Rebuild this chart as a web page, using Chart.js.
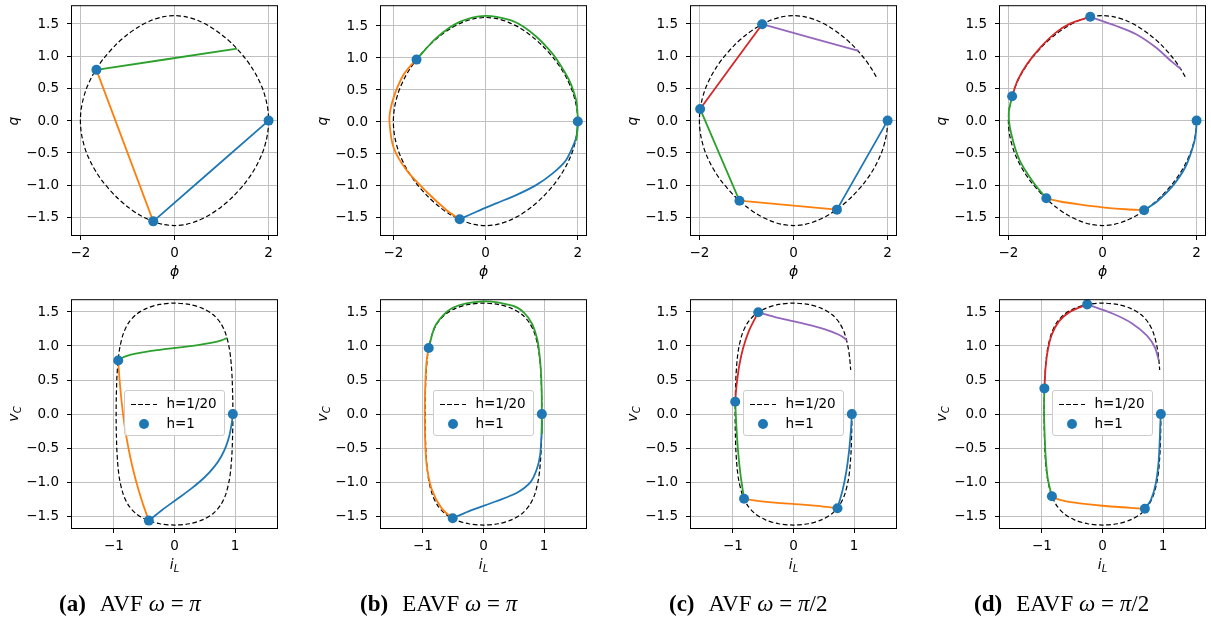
<!DOCTYPE html>
<html>
<head>
<meta charset="utf-8">
<script src="https://cdn.jsdelivr.net/npm/chart.js@4.4.1/dist/chart.umd.min.js"></script>
<style>
  body { margin: 0; width: 1211px; height: 628px; background: #fff; position: relative; overflow: hidden; font-family: "DejaVu Sans", sans-serif; }
  .lab { position: absolute; font-size: 14px; font-style: italic; white-space: nowrap; color: #000; line-height: 1; }
  .lab .sub { font-size: 10px; position: relative; top: 3px; }
  .tick { position: absolute; font-size: 13.5px; line-height: 1; white-space: nowrap; color: #000; }
  .cap { position: absolute; font-family: "Liberation Serif", serif; font-size: 23px; line-height: 23px; white-space: nowrap; color: #000; }
  .cap b { margin-right: 14px; }
  .leg { position: absolute; width: 101px; height: 46px; background: rgba(255,255,255,0.8); border: 1px solid #cccccc; border-radius: 3px; box-sizing: border-box; }
  .leg .dash { position: absolute; left: 6px; width: 27px; height: 1.3px; background: repeating-linear-gradient(90deg, #000 0 4.6px, transparent 4.6px 7.2px); }
  .leg .dot { position: absolute; width: 10px; height: 10px; border-radius: 50%; background: #1f77b4; }
  .leg .txt { position: absolute; left: 42px; font-size: 13.5px; line-height: 1; white-space: nowrap; }
</style>
</head>
<body>
<script>
const C0 = '#1f77b4', C1 = '#ff7f0e', C2 = '#2ca02c', C3 = '#d62728', C4 = '#9467bd';
const SEG_COLORS = [C0, C1, C2, C3, C4];

const TOP_XTICKS = [-2, 0, 2];
const BOT_XTICKS = [-1, 0, 1];
const YTICKS = [-1.5, -1.0, -0.5, 0.0, 0.5, 1.0, 1.5];

// reference orbit h=1/20, full loop (omega = pi)
const refPhiFull = [2, 1.995, 1.98, 1.95, 1.9, 1.85, 1.75, 1.65, 1.5, 1.25, 1, 0.75, 0.5, 0.25, 0, -0.25, -0.5, -0.75, -1, -1.25, -1.5, -1.65, -1.75, -1.85, -1.9, -1.95, -1.98, -1.995, -2, -1.995, -1.98, -1.95, -1.9, -1.85, -1.75, -1.65, -1.5, -1.25, -1, -0.75, -0.5, -0.25, 0, 0.25, 0.5, 0.75, 1, 1.25, 1.5, 1.65, 1.75, 1.85, 1.9, 1.95, 1.98, 1.995, 2];
const refQFull = [0, -0.098, -0.196, -0.307, -0.438, -0.536, -0.69, -0.815, -0.969, -1.174, -1.335, -1.461, -1.552, -1.609, -1.628, -1.609, -1.552, -1.461, -1.335, -1.174, -0.969, -0.815, -0.69, -0.536, -0.438, -0.307, -0.196, -0.098, 0, 0.098, 0.196, 0.307, 0.438, 0.536, 0.69, 0.815, 0.969, 1.174, 1.335, 1.461, 1.552, 1.609, 1.628, 1.609, 1.552, 1.461, 1.335, 1.174, 0.969, 0.815, 0.69, 0.536, 0.438, 0.307, 0.196, 0.098, 0];
const refILFull = [0.964, 0.964, 0.963, 0.960, 0.956, 0.952, 0.941, 0.929, 0.905, 0.848, 0.762, 0.635, 0.462, 0.245, 0, -0.245, -0.462, -0.635, -0.762, -0.848, -0.905, -0.929, -0.941, -0.952, -0.956, -0.960, -0.963, -0.964, -0.964, -0.964, -0.963, -0.960, -0.956, -0.952, -0.941, -0.929, -0.905, -0.848, -0.762, -0.635, -0.462, -0.245, 0, 0.245, 0.462, 0.635, 0.762, 0.848, 0.905, 0.929, 0.941, 0.952, 0.956, 0.960, 0.963, 0.964, 0.964];

// reference orbit h=1/20, partial loop (omega = pi/2)
const refPhiPart = [2, 1.995, 1.98, 1.95, 1.9, 1.85, 1.75, 1.65, 1.5, 1.25, 1, 0.75, 0.5, 0.25, 0, -0.25, -0.5, -0.75, -1, -1.25, -1.5, -1.65, -1.75, -1.85, -1.9, -1.95, -1.98, -1.995, -2, -1.995, -1.98, -1.95, -1.9, -1.85, -1.75, -1.65, -1.5, -1.25, -1, -0.75, -0.5, -0.25, 0, 0.25, 0.5, 0.75, 1, 1.25, 1.5, 1.65, 1.75, 1.78];
const refQPart = [0, -0.098, -0.196, -0.307, -0.438, -0.536, -0.69, -0.815, -0.969, -1.174, -1.335, -1.461, -1.552, -1.609, -1.628, -1.609, -1.552, -1.461, -1.335, -1.174, -0.969, -0.815, -0.69, -0.536, -0.438, -0.307, -0.196, -0.098, 0, 0.098, 0.196, 0.307, 0.438, 0.536, 0.69, 0.815, 0.969, 1.174, 1.335, 1.461, 1.552, 1.609, 1.628, 1.609, 1.552, 1.461, 1.335, 1.174, 0.969, 0.815, 0.69, 0.648];
const refILPart = [0.964, 0.964, 0.963, 0.960, 0.956, 0.952, 0.941, 0.929, 0.905, 0.848, 0.762, 0.635, 0.462, 0.245, 0, -0.245, -0.462, -0.635, -0.762, -0.848, -0.905, -0.929, -0.941, -0.952, -0.956, -0.960, -0.963, -0.964, -0.964, -0.964, -0.963, -0.960, -0.956, -0.952, -0.941, -0.929, -0.905, -0.848, -0.762, -0.635, -0.462, -0.245, 0, 0.245, 0.462, 0.635, 0.762, 0.848, 0.905, 0.929, 0.941, 0.945];

// (a) AVF omega = pi
const aDotPhi = [2, -0.452, -1.66];
const aDotQ = [0, -1.563, 0.787];
const aSegPhi = [[2, -0.452], [-0.452, -1.66], [-1.66, 1.33]];
const aSegQ = [[0, -1.563], [-1.563, 0.787], [0.787, 1.116]];
const aDotIL = [0.964, -0.424, -0.930];
const aSegIL = [
  [0.964, 0.954, 0.942, 0.907, 0.852, 0.770, 0.649, 0.485, 0.277, 0.038, -0.204, -0.424],
  [-0.424, -0.518, -0.601, -0.672, -0.733, -0.784, -0.827, -0.861, -0.889, -0.912, -0.930],
  [-0.930, -0.877, -0.786, -0.643, -0.433, -0.164, 0.133, 0.408, 0.624, 0.774, 0.869]
];
const aSegVC = [
  [0, -0.078, -0.156, -0.313, -0.469, -0.625, -0.782, -0.938, -1.094, -1.25, -1.407, -1.563],
  [-1.563, -1.328, -1.093, -0.858, -0.623, -0.388, -0.153, 0.082, 0.317, 0.552, 0.787],
  [0.787, 0.820, 0.853, 0.886, 0.919, 0.952, 0.984, 1.017, 1.050, 1.083, 1.116]
];

// (b) EAVF omega = pi
const bDotPhi = [2, -0.562, -1.498];
const bDotQ = [0, -1.528, 0.969];
const bSegPhi = [
  [2, 1.98, 1.92, 1.745, 1.455, 1.096, 0.664, 0.231, -0.201, -0.562],
  [-0.562, -0.85, -1.28, -1.715, -2.0, -2.085, -2.06, -1.97, -1.79, -1.606, -1.498],
  [-1.498, -1.066, -0.562, 0, 0.519, 0.807, 1.096, 1.347, 1.528, 1.81, 1.96, 1.99, 2.0, 1.99, 1.965]
];
const bSegQ = [
  [0, -0.2, -0.345, -0.604, -0.81, -0.994, -1.15, -1.279, -1.41, -1.528],
  [-1.528, -1.383, -1.098, -0.76, -0.397, 0, 0.2, 0.43, 0.72, 0.891, 0.969],
  [0.969, 1.31, 1.56, 1.654, 1.59, 1.49, 1.33, 1.15, 0.99, 0.65, 0.35, 0.18, 0, -0.15, -0.3]
];
const bDotIL = [0.964, -0.509, -0.905];
const bSegIL = [
  [0.964, 0.963, 0.956, 0.935, 0.88, 0.78, 0.56, 0.21, -0.198, -0.509],
  [-0.509, -0.691, -0.857, -0.937, -0.964, -0.97, -0.968, -0.962, -0.946, -0.923, -0.905],
  [-0.905, -0.788, -0.509, 0, 0.477, 0.668, 0.799, 0.873, 0.91, 0.948, 0.961, 0.963, 0.964, 0.963, 0.962]
];

// (c) AVF omega = pi/2
const cDotPhi = [2, 0.923, -1.149, -1.985, -0.666];
const cDotQ = [0, -1.381, -1.242, 0.181, 1.495];
const cSegPhi = [[2, 0.923], [0.923, -1.149], [-1.149, -1.985], [-1.985, -0.666], [-0.666, 1.383]];
const cSegQ = [[0, -1.381], [-1.381, -1.242], [-1.242, 0.181], [0.181, 1.495], [1.495, 1.082]];
const cDotIL = [0.964, 0.727, -0.817, -0.963, -0.582];
const cSegIL = [
  [0.964, 0.956, 0.945, 0.917, 0.875, 0.814, 0.727],
  [0.727, 0.469, 0.094, -0.310, -0.626, -0.817],
  [-0.817, -0.876, -0.917, -0.944, -0.963],
  [-0.963, -0.952, -0.938, -0.897, -0.832, -0.731, -0.582],
  [-0.582, -0.251, 0.153, 0.510, 0.750, 0.827, 0.882]
];
const cSegVC = [
  [0, -0.138, -0.276, -0.552, -0.829, -1.105, -1.381],
  [-1.381, -1.353, -1.325, -1.298, -1.270, -1.242],
  [-1.242, -0.886, -0.531, -0.175, 0.181],
  [0.181, 0.312, 0.444, 0.707, 0.969, 1.232, 1.495],
  [1.495, 1.412, 1.330, 1.247, 1.165, 1.123, 1.082]
];

// (d) EAVF omega = pi/2
const dDotPhi = [2, 0.884, -1.194, -1.921, -0.261];
const dDotQ = [0, -1.39, -1.205, 0.377, 1.61];
const dSegPhi = [
  [2, 1.99, 1.944, 1.767, 1.484, 1.166, 0.884],
  [0.884, 0.5, 0, -0.5, -0.9, -1.194],
  [-1.194, -1.484, -1.766, -1.942, -1.993, -1.921],
  [-1.921, -1.8, -1.6, -1.3, -1.0, -0.7, -0.261],
  [-0.261, 0.282, 0.706, 1.13, 1.484, 1.662]
];
const dSegQ = [
  [0, -0.15, -0.351, -0.712, -1.02, -1.251, -1.39],
  [-1.39, -1.375, -1.345, -1.3, -1.255, -1.205],
  [-1.205, -0.943, -0.609, -0.197, 0.111, 0.377],
  [0.377, 0.63, 0.88, 1.15, 1.36, 1.5, 1.61],
  [1.61, 1.471, 1.343, 1.137, 0.906, 0.804]
];
const dDotIL = [0.964, 0.70, -0.836, -0.96, -0.253];
const dSegIL = [
  [0.964, 0.955, 0.946, 0.925, 0.88, 0.8, 0.70],
  [0.70, 0.462, 0, -0.462, -0.716, -0.836],
  [-0.836, -0.905, -0.94, -0.96, -0.967, -0.96],
  [-0.96, -0.945, -0.915, -0.845, -0.72, -0.54, -0.253],
  [-0.253, 0.155, 0.483, 0.735, 0.87, 0.925]
];
const dSegVC = [
  [0, -0.15, -0.377, -0.72, -1.02, -1.26, -1.39],
  [-1.39, -1.375, -1.345, -1.3, -1.255, -1.205],
  [-1.205, -0.943, -0.609, -0.197, 0.111, 0.377],
  [0.377, 0.63, 0.88, 1.15, 1.36, 1.5, 1.61],
  [1.61, 1.48, 1.334, 1.15, 0.97, 0.80]
];

const captions = [
  ['(a)', 'AVF', '<i>π</i>'],
  ['(b)', 'EAVF', '<i>π</i>'],
  ['(c)', 'AVF', '<i>π</i>/2'],
  ['(d)', 'EAVF', '<i>π</i>/2']
];

// layout
const FRAME_LEFT = [71, 380, 690, 999];
const FRAME_W = 207;
const ROW_TOP = [5, 299];
const ROW_H = [231, 230];
const PAD_L = 62, PAD_R = 8, PAD_T = 10, PAD_B = 30;
const CAP_LEFT = [59, 360, 669, 974];

const pts = (xs, ys) => xs.map((x, i) => ({ x: x, y: ys[i] }));
const fmt = (v, d) => (v < 0 ? '\u2212' : '') + Math.abs(v).toFixed(d);

const framePlugin = {
  id: 'frame',
  afterDraw(chart) {
    const { ctx, chartArea: a } = chart;
    ctx.save();
    ctx.strokeStyle = '#000';
    ctx.lineWidth = 1;
    ctx.strokeRect(a.left + 0.5, a.top + 0.5, a.right - a.left - 1, a.bottom - a.top - 1);
    ctx.restore();
  }
};

function addText(cls, html, x, y, tx, ty) {
  const d = document.createElement('div');
  d.className = cls;
  d.innerHTML = html;
  d.style.left = x + 'px';
  d.style.top = y + 'px';
  d.style.transform = 'translate(' + tx + ',' + ty + ')';
  document.body.appendChild(d);
  return d;
}

function makePanel(col, row, xr, yr, xticks, segX, segY, dotX, dotY, refX, refY) {
  const left = FRAME_LEFT[col], top = ROW_TOP[row], h = ROW_H[row];
  const W = FRAME_W + PAD_L + PAD_R, H = h + PAD_T + PAD_B;
  const cLeft = left - PAD_L, cTop = top - PAD_T;
  const cv = document.createElement('canvas');
  cv.width = W; cv.height = H;
  cv.style.cssText = 'position:absolute;left:' + cLeft + 'px;top:' + cTop + 'px;width:' + W + 'px;height:' + H + 'px';
  document.body.appendChild(cv);

  const ds = [{
    data: pts(dotX, dotY), showLine: false, pointRadius: 5,
    pointBackgroundColor: C0, pointBorderWidth: 0
  }];
  for (let k = segX.length - 1; k >= 0; k--) {
    ds.push({
      data: pts(segX[k], segY[k]), showLine: true, borderColor: SEG_COLORS[k],
      borderWidth: 1.8, pointRadius: 0, tension: 0.3
    });
  }
  ds.push({
    data: pts(refX, refY), showLine: true, borderColor: '#000', borderWidth: 1.2,
    borderDash: [4.6, 2.6], pointRadius: 0, tension: 0.3
  });

  const grid = { color: '#c0c0c0', lineWidth: 1, tickLength: 4, tickColor: '#000', tickWidth: 1, drawTicks: true };
  const hidden = { color: 'rgba(0,0,0,0)', autoSkip: false, maxRotation: 0 };

  const chart = new Chart(cv, {
    type: 'scatter',
    data: { datasets: ds },
    options: {
      responsive: false,
      animation: false,
      events: [],
      layout: { padding: { top: PAD_T, right: PAD_R, left: 0, bottom: 0 } },
      plugins: { legend: { display: false }, tooltip: { enabled: false } },
      scales: {
        x: {
          type: 'linear', min: xr[0], max: xr[1],
          afterBuildTicks: s => { s.ticks = xticks.map(v => ({ value: v })); },
          afterFit: s => { s.height = PAD_B; },
          grid: grid, border: { display: false }, ticks: hidden
        },
        y: {
          type: 'linear', min: yr[0], max: yr[1],
          afterBuildTicks: s => { s.ticks = YTICKS.map(v => ({ value: v })); },
          afterFit: s => { s.width = PAD_L; },
          grid: grid, border: { display: false }, ticks: hidden
        }
      }
    },
    plugins: [framePlugin]
  });

  // tick labels as page text, placed with the chart's own scales
  const a = chart.chartArea;
  xticks.forEach(v => {
    addText('tick', fmt(v, 0), cLeft + chart.scales.x.getPixelForValue(v), cTop + a.bottom + 17, '-50%', '-50%');
  });
  YTICKS.forEach(v => {
    addText('tick', fmt(v, 1), cLeft + a.left - 12, cTop + chart.scales.y.getPixelForValue(v), '-100%', '-50%');
  });
}

function addLegend(col) {
  const cx = FRAME_LEFT[col] + FRAME_W / 2, cy = ROW_TOP[1] + ROW_H[1] / 2;
  const d = document.createElement('div');
  d.className = 'leg';
  d.style.left = (cx - 51) + 'px';
  d.style.top = (cy - 24) + 'px';
  d.innerHTML =
    '<div class="dash" style="top:12.5px"></div><div class="txt" style="top:6px">h=1/20</div>' +
    '<div class="dot" style="left:14.5px;top:28px"></div><div class="txt" style="top:26px">h=1</div>';
  document.body.appendChild(d);
}

const ROW1_X = [[-2.2, 2.2], [-2.29, 2.2], [-2.2, 2.2], [-2.2, 2.2]];
const ROW1_Y = [[-1.79, 1.79], [-1.79, 1.82], [-1.79, 1.79], [-1.79, 1.79]];
const ROW2_X = [-1.71, 1.71];
const ROW2_Y = [-1.686, 1.686];

makePanel(0, 0, ROW1_X[0], ROW1_Y[0], TOP_XTICKS, aSegPhi, aSegQ, aDotPhi, aDotQ, refPhiFull, refQFull);
makePanel(1, 0, ROW1_X[1], ROW1_Y[1], TOP_XTICKS, bSegPhi, bSegQ, bDotPhi, bDotQ, refPhiFull, refQFull);
makePanel(2, 0, ROW1_X[2], ROW1_Y[2], TOP_XTICKS, cSegPhi, cSegQ, cDotPhi, cDotQ, refPhiPart, refQPart);
makePanel(3, 0, ROW1_X[3], ROW1_Y[3], TOP_XTICKS, dSegPhi, dSegQ, dDotPhi, dDotQ, refPhiPart, refQPart);

makePanel(0, 1, ROW2_X, ROW2_Y, BOT_XTICKS, aSegIL, aSegVC, aDotIL, aDotQ, refILFull, refQFull);
makePanel(1, 1, ROW2_X, ROW2_Y, BOT_XTICKS, bSegIL, bSegQ, bDotIL, bDotQ, refILFull, refQFull);
makePanel(2, 1, ROW2_X, ROW2_Y, BOT_XTICKS, cSegIL, cSegVC, cDotIL, cDotQ, refILPart, refQPart);
makePanel(3, 1, ROW2_X, ROW2_Y, BOT_XTICKS, dSegIL, dSegVC, dDotIL, dDotQ, refILPart, refQPart);

for (let c = 0; c < 4; c++) {
  const mid = FRAME_LEFT[c] + FRAME_W / 2;
  addText('lab', '\u03d5', mid, 271, '-50%', '-50%');
  addText('lab', 'i<span class="sub">L</span>', mid, 564, '-50%', '-50%');
  addText('lab', 'q', FRAME_LEFT[c] - 58, ROW_TOP[0] + ROW_H[0] / 2, '-50%', '-50%').style.transform += ' rotate(-90deg)';
  addText('lab', 'v<span class="sub">C</span>', FRAME_LEFT[c] - 58, ROW_TOP[1] + ROW_H[1] / 2, '-50%', '-50%').style.transform += ' rotate(-90deg)';
  addLegend(c);

  const cap = document.createElement('div');
  cap.className = 'cap';
  cap.style.left = CAP_LEFT[c] + 'px';
  cap.style.top = '592px';
  cap.innerHTML = '<b>' + captions[c][0] + '</b>' + captions[c][1] + ' <i>ω</i> = ' + captions[c][2];
  document.body.appendChild(cap);
}
</script>
</body>
</html>
